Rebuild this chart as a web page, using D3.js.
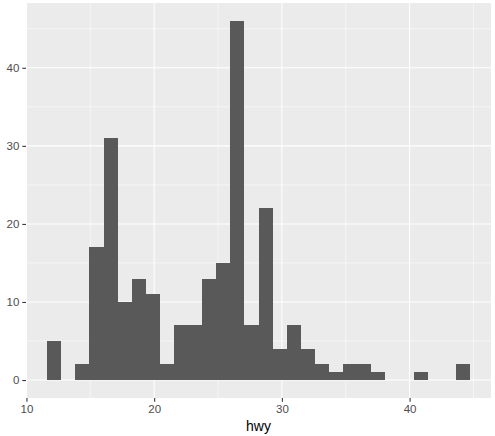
<!DOCTYPE html>
<html>
<head>
<meta charset="utf-8">
<script src="https://cdn.jsdelivr.net/npm/d3@7"></script>
<style>
  body { margin: 0; background: #ffffff; }
  text { font-family: "Liberation Sans", Arial, sans-serif; }
</style>
</head>
<body>
<div class="d3Chart"></div>
<script>
// data: histogram of hwy, 30 bins
var counts = [5, 0, 2, 17, 31, 10, 13, 11, 2, 7, 7, 13, 15, 46, 7, 22, 4, 7, 4, 2, 1, 2, 2, 1, 0, 0, 1, 0, 0, 2];
var binStart = [11.62];
var binWidth = [1.1033];
var xTicks = [10, 20, 30, 40];
var xMinor = [15, 25, 35, 45];
var yTicks = [0, 10, 20, 30, 40];
var yMinor = [5, 15, 25, 35, 45];

var width = 495;
var height = 436;
var panel = { left: 26, right: 491, top: 3, bottom: 398 };

var bins = counts.map(function (c, i) {
  return { x0: binStart[0] + i * binWidth[0], x1: binStart[0] + (i + 1) * binWidth[0], n: c };
});

var svg = d3
  .select(".d3Chart")
  .append("svg")
  .attr("width", width)
  .attr("height", height);

// scales with ggplot's 5% expansion
var xLo = bins[0].x0, xHi = bins[bins.length - 1].x1;
var xPad = (xHi - xLo) * 0.05;
var x = d3.scaleLinear()
  .domain([xLo - xPad, xHi + xPad])
  .range([panel.left, panel.right]);

var yMax = d3.max(counts);
var y = d3.scaleLinear()
  .domain([-yMax * 0.05, yMax * 1.05])
  .range([panel.bottom, panel.top]);

// panel background
svg.append("rect")
  .attr("x", panel.left)
  .attr("y", panel.top)
  .attr("width", panel.right - panel.left)
  .attr("height", panel.bottom - panel.top)
  .attr("fill", "#EBEBEB");

var grid = svg.append("g");

// minor grid
grid.selectAll(".xm").data(xMinor).enter().append("line")
  .attr("x1", d => x(d)).attr("x2", d => x(d))
  .attr("y1", panel.top).attr("y2", panel.bottom)
  .attr("stroke", "#fff").attr("stroke-width", 0.53);
grid.selectAll(".ym").data(yMinor).enter().append("line")
  .attr("y1", d => y(d)).attr("y2", d => y(d))
  .attr("x1", panel.left).attr("x2", panel.right)
  .attr("stroke", "#fff").attr("stroke-width", 0.53);

// major grid
grid.selectAll(".xg").data(xTicks).enter().append("line")
  .attr("x1", d => x(d)).attr("x2", d => x(d))
  .attr("y1", panel.top).attr("y2", panel.bottom)
  .attr("stroke", "#fff").attr("stroke-width", 1.07);
grid.selectAll(".yg").data(yTicks).enter().append("line")
  .attr("y1", d => y(d)).attr("y2", d => y(d))
  .attr("x1", panel.left).attr("x2", panel.right)
  .attr("stroke", "#fff").attr("stroke-width", 1.07);

// bars
svg.append("g")
  .attr("shape-rendering", "crispEdges")
  .selectAll("rect")
  .data(bins.filter(d => d.n > 0))
  .enter()
  .append("rect")
  .attr("x", d => x(d.x0))
  .attr("width", d => x(d.x1) - x(d.x0))
  .attr("y", d => y(d.n))
  .attr("height", d => y(0) - y(d.n))
  .attr("fill", "#595959");

// axes
var xAxis = svg.append("g")
  .attr("transform", "translate(0," + panel.bottom + ")")
  .call(d3.axisBottom(x).tickValues(xTicks).tickSize(3.7).tickPadding(3));
var yAxis = svg.append("g")
  .attr("transform", "translate(" + panel.left + ",0)")
  .call(d3.axisLeft(y).tickValues(yTicks).tickSize(3.7).tickPadding(3));

[xAxis, yAxis].forEach(function (a) {
  a.select(".domain").remove();
  a.selectAll(".tick line").attr("stroke", "#333333").attr("stroke-width", 1.07);
  a.selectAll(".tick text")
    .attr("fill", "#4D4D4D")
    .style("font-size", "11.5px")
    .style("font-family", "'Liberation Sans', Arial, sans-serif");
});

// axis title
svg.append("text")
  .attr("x", (panel.left + panel.right) / 2)
  .attr("y", 431)
  .attr("text-anchor", "middle")
  .attr("fill", "#000")
  .style("font-size", "14px")
  .text("hwy");
</script>
</body>
</html>
